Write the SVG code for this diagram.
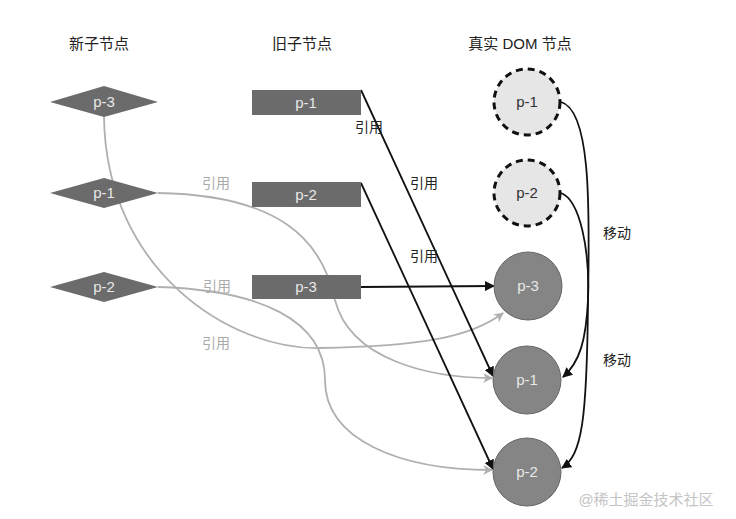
<svg xmlns="http://www.w3.org/2000/svg" width="736" height="519" viewBox="0 0 736 519">
<style>
text{font-family:"Liberation Sans","Noto Sans CJK SC",sans-serif}
.hd{font-size:15px;fill:#222;text-anchor:middle}
.lb{font-size:15px;fill:#e8e8e8;text-anchor:middle}
.lbd{font-size:15px;fill:#333;text-anchor:middle}
.dia,.rect{fill:#6b6b6b}
.sc{fill:#858585;stroke:#666;stroke-width:1}
.dc{fill:#e6e6e6;stroke:#111;stroke-width:3;stroke-dasharray:7 5}
.bk{fill:none;stroke:#111;stroke-width:1.8}
.gr{fill:none;stroke:#b0b0b0;stroke-width:1.8}
.tb{font-size:14px;fill:#222;text-anchor:middle}
.tg{font-size:14px;fill:#aaa;text-anchor:middle}
</style>
<defs>
<marker id="ab" viewBox="0 0 10 10" refX="9" refY="5" markerWidth="10" markerHeight="10" markerUnits="userSpaceOnUse" orient="auto"><path d="M0,0L10,5L0,10z" fill="#111"/></marker>
<marker id="ag" viewBox="0 0 10 10" refX="9" refY="5" markerWidth="10" markerHeight="10" markerUnits="userSpaceOnUse" orient="auto"><path d="M0,0L10,5L0,10L3,5z" fill="#b0b0b0"/></marker>
</defs>
<rect width="736" height="519" fill="#fff"/>
<g id="headers">
<text class="hd" x="99" y="49">新子节点</text>
<text class="hd" x="302" y="49">旧子节点</text>
<text class="hd" x="520" y="49">真实 DOM 节点</text>
</g>
<g id="connectors">
<path class="gr" d="M104,117 C106,270 230,350 320,348 C420,346 470,338 503,313" marker-end="url(#ag)"/>
<path class="gr" d="M158,193 C280,195 322,240 335,300 C350,360 430,378 492,378" marker-end="url(#ag)"/>
<path class="gr" d="M158,287 C260,290 325,320 325,380 C325,440 400,470 492,470" marker-end="url(#ag)"/>
<path class="bk" d="M361,90 L493,376" marker-end="url(#ab)"/>
<path class="bk" d="M361,183 L493,469" marker-end="url(#ab)"/>
<path class="bk" d="M361,287 L494,286" marker-end="url(#ab)"/>
<path class="bk" d="M561,102 C590,110 590,200 588,300 C587,420 582,455 562,468" marker-end="url(#ab)"/>
<path class="bk" d="M561,193 C580,200 590,250 588,300 C586,340 580,362 563,377" marker-end="url(#ab)"/>
<text class="tb" x="369" y="132">引用</text>
<text class="tb" x="424" y="188">引用</text>
<text class="tb" x="424" y="261">引用</text>
<text class="tg" x="216" y="188">引用</text>
<text class="tg" x="217" y="291">引用</text>
<text class="tg" x="216" y="348">引用</text>
<text class="tb" x="617" y="238">移动</text>
<text class="tb" x="617" y="365">移动</text>
</g>
<g id="new-p3"><polygon class="dia" points="50,102 104,86 158,102 104,117"/><text class="lb" x="104" y="107">p-3</text></g>
<g id="new-p1"><polygon class="dia" points="50,193 104,178 158,193 104,208"/><text class="lb" x="104" y="198">p-1</text></g>
<g id="new-p2"><polygon class="dia" points="50,287 104,272 158,287 104,302"/><text class="lb" x="104" y="292">p-2</text></g>
<g id="old-p1"><rect class="rect" x="252" y="90" width="109" height="25"/><text class="lb" x="306" y="108">p-1</text></g>
<g id="old-p2"><rect class="rect" x="252" y="182" width="109" height="25"/><text class="lb" x="306" y="200">p-2</text></g>
<g id="old-p3"><rect class="rect" x="252" y="275" width="109" height="24"/><text class="lb" x="306" y="292">p-3</text></g>
<g id="dom-p1-old"><circle class="dc" cx="527" cy="102" r="33"/><text class="lbd" x="527" y="107">p-1</text></g>
<g id="dom-p2-old"><circle class="dc" cx="527" cy="193" r="33"/><text class="lbd" x="527" y="198">p-2</text></g>
<g id="dom-p3"><circle class="sc" cx="528" cy="286" r="34"/><text class="lb" x="528" y="291">p-3</text></g>
<g id="dom-p1"><circle class="sc" cx="527" cy="380" r="34"/><text class="lb" x="527" y="385">p-1</text></g>
<g id="dom-p2"><circle class="sc" cx="527" cy="472" r="34"/><text class="lb" x="527" y="477">p-2</text></g>
<text x="646" y="505" font-size="15" fill="#c4c4c4" text-anchor="middle">@稀土掘金技术社区</text>
</svg>
